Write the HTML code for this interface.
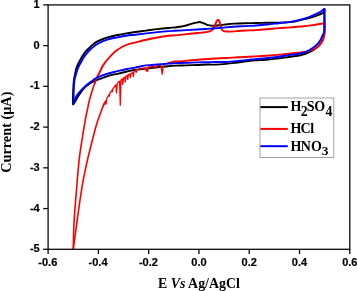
<!DOCTYPE html>
<html><head><meta charset="utf-8"><title>Cyclic voltammogram</title>
<style>
html,body{margin:0;padding:0;background:#fff;}
body{width:357px;height:291px;overflow:hidden;position:relative;font-family:"Liberation Sans",sans-serif;}
svg{display:block}
</style></head><body>
<svg width="357" height="291" viewBox="0 0 357 291" style="position:absolute;left:0;top:0">
<rect x="0" y="0" width="357" height="291" fill="#fff"/>
<g fill="none" stroke-linejoin="round" stroke-linecap="round" stroke-width="1.9">
<path stroke="#000" d="M73.20 104.30C73.15 103.57 72.92 101.78 72.90 99.90C72.88 98.02 73.02 95.20 73.10 93.00C73.18 90.80 73.27 88.87 73.40 86.70C73.53 84.53 73.65 81.95 73.90 80.00C74.15 78.05 74.50 76.92 74.90 75.00C75.30 73.08 75.80 70.25 76.30 68.50C76.80 66.75 77.37 65.70 77.90 64.50C78.43 63.30 78.77 62.67 79.50 61.30C80.23 59.93 81.22 57.98 82.30 56.30C83.38 54.62 84.80 52.65 86.00 51.20C87.20 49.75 88.33 48.73 89.50 47.60C90.67 46.47 91.75 45.38 93.00 44.40C94.25 43.42 95.55 42.52 97.00 41.70C98.45 40.88 99.80 40.26 101.70 39.50C103.60 38.74 105.78 37.91 108.40 37.17C111.02 36.43 114.40 35.69 117.40 35.05C120.40 34.41 123.47 33.85 126.40 33.34C129.33 32.83 131.70 32.46 135.00 32.00C138.30 31.54 142.47 31.06 146.20 30.57C149.93 30.09 153.67 29.55 157.40 29.11C161.13 28.67 165.67 28.21 168.60 27.93C171.53 27.65 172.82 27.68 175.00 27.44C177.18 27.19 180.03 26.73 181.70 26.45C183.37 26.17 183.88 26.03 185.00 25.75C186.12 25.47 187.40 25.06 188.40 24.76C189.40 24.46 190.07 24.24 191.00 23.96C191.93 23.68 193.00 23.32 194.00 23.07C195.00 22.82 196.08 22.64 197.00 22.47C197.92 22.31 198.67 22.06 199.50 22.07C200.33 22.09 201.23 22.34 202.00 22.58C202.77 22.81 203.35 23.16 204.10 23.48C204.85 23.80 205.75 24.20 206.50 24.49C207.25 24.77 207.85 25.00 208.60 25.19C209.35 25.37 210.25 25.51 211.00 25.59C211.75 25.68 212.10 25.71 213.10 25.70C214.10 25.68 215.55 25.62 217.00 25.50C218.45 25.39 220.07 25.22 221.80 25.01C223.53 24.79 225.35 24.45 227.40 24.22C229.45 23.99 231.17 23.79 234.10 23.63C237.03 23.47 241.32 23.34 245.00 23.24C248.68 23.15 252.47 23.14 256.20 23.06C259.93 22.98 263.67 22.86 267.40 22.78C271.13 22.70 275.67 22.65 278.60 22.59C281.53 22.54 283.10 22.51 285.00 22.43C286.90 22.35 288.05 22.37 290.00 22.12C291.95 21.88 294.47 21.44 296.70 20.97C298.93 20.51 301.52 19.77 303.40 19.33C305.28 18.89 306.50 18.70 308.00 18.34C309.50 17.98 310.73 17.68 312.40 17.15C314.07 16.63 316.32 15.86 318.00 15.20C319.68 14.54 321.47 13.77 322.50 13.20C323.53 12.63 323.88 12.47 324.20 11.80C324.52 11.13 324.37 9.63 324.40 9.20"/>
<path stroke="#000" d="M324.40 9.20C324.42 11.00 324.50 16.53 324.50 20.00C324.50 23.47 324.45 27.67 324.40 30.00C324.35 32.33 324.35 32.75 324.20 34.00C324.05 35.25 323.77 36.47 323.50 37.50C323.23 38.53 323.02 39.28 322.60 40.20C322.18 41.12 321.62 42.09 321.00 43.00C320.38 43.91 319.65 44.85 318.90 45.64C318.15 46.42 317.47 46.97 316.50 47.72C315.53 48.46 314.50 49.28 313.10 50.12C311.70 50.96 309.78 52.00 308.10 52.73C306.42 53.46 304.68 54.01 303.00 54.51C301.32 55.02 300.40 55.33 298.00 55.75C295.60 56.16 292.03 56.55 288.60 57.01C285.17 57.46 281.17 58.01 277.40 58.46C273.63 58.91 269.73 59.40 266.00 59.71C262.27 60.03 257.90 60.15 255.00 60.37C252.10 60.58 251.53 60.65 248.60 61.00C245.67 61.35 241.17 62.00 237.40 62.48C233.63 62.95 229.73 63.49 226.00 63.85C222.27 64.21 217.90 64.51 215.00 64.62C212.10 64.73 211.53 64.45 208.60 64.51C205.67 64.57 201.17 64.84 197.40 64.98C193.63 65.12 189.73 65.25 186.00 65.35C182.27 65.46 178.47 65.42 175.00 65.60C171.53 65.79 168.53 66.14 165.20 66.45C161.87 66.77 159.20 67.03 155.00 67.50C150.80 67.97 143.67 68.85 140.00 69.30C136.33 69.75 135.17 69.83 133.00 70.20C130.83 70.57 129.60 70.90 127.00 71.50C124.40 72.10 120.23 73.15 117.40 73.80C114.57 74.45 112.62 74.63 110.00 75.40C107.38 76.17 103.70 77.70 101.70 78.40C99.70 79.10 99.28 79.13 98.00 79.60C96.72 80.07 95.48 80.47 94.00 81.20C92.52 81.93 90.75 82.83 89.10 84.00C87.45 85.17 85.75 86.42 84.10 88.20C82.45 89.98 80.70 92.48 79.20 94.70C77.70 96.92 76.10 99.90 75.10 101.50C74.10 103.10 73.52 103.83 73.20 104.30"/>
<path stroke="#f00" stroke-width="1.6" d="M73.30 248.70C73.43 244.08 73.50 231.62 74.10 221.00C74.70 210.38 76.28 192.88 76.90 185.00C77.52 177.12 77.37 178.40 77.80 173.70C78.23 169.00 78.80 162.42 79.50 156.80C80.20 151.18 81.05 146.05 82.00 140.00C82.95 133.95 84.30 125.53 85.20 120.50C86.10 115.47 86.75 112.97 87.40 109.80C88.05 106.63 88.27 104.80 89.10 101.50C89.93 98.20 91.45 93.08 92.40 90.00C93.35 86.92 94.20 84.78 94.80 83.00"/>
<path stroke="#f00" d="M94.80 83.00C95.40 81.22 95.33 80.80 96.00 79.30C96.67 77.80 97.75 76.08 98.80 74.00C99.85 71.92 101.37 68.55 102.30 66.80C103.23 65.05 103.68 64.55 104.40 63.50C105.12 62.45 105.58 61.74 106.60 60.50C107.62 59.26 108.97 57.62 110.50 56.05C112.03 54.48 113.90 52.59 115.80 51.08C117.70 49.57 119.77 48.17 121.90 47.02C124.03 45.87 126.42 44.93 128.60 44.19C130.78 43.44 132.07 43.29 135.00 42.55C137.93 41.81 142.47 40.59 146.20 39.74C149.93 38.90 153.67 38.12 157.40 37.47C161.13 36.81 165.67 36.14 168.60 35.79C171.53 35.44 172.07 35.65 175.00 35.38C177.93 35.11 182.47 34.57 186.20 34.17C189.93 33.76 194.27 33.27 197.40 32.95C200.53 32.64 203.23 32.47 205.00 32.27C206.77 32.08 207.08 31.98 208.00 31.77C208.92 31.56 209.78 31.33 210.50 31.00C211.22 30.67 211.77 30.32 212.30 29.80C212.83 29.28 213.27 28.62 213.70 27.90C214.13 27.18 214.53 26.33 214.90 25.50C215.27 24.67 215.57 23.68 215.90 22.90C216.23 22.12 216.57 21.30 216.90 20.80C217.23 20.30 217.57 19.97 217.90 19.90C218.23 19.83 218.58 19.97 218.90 20.40C219.22 20.83 219.52 21.65 219.80 22.50C220.08 23.35 220.33 24.50 220.60 25.50C220.87 26.50 221.10 27.70 221.40 28.50C221.70 29.30 221.97 29.87 222.40 30.30C222.83 30.73 223.32 30.90 224.00 31.10C224.68 31.30 225.57 31.42 226.50 31.50C227.43 31.58 227.58 31.68 229.60 31.60C231.62 31.52 236.03 31.18 238.60 31.00C241.17 30.82 242.07 30.65 245.00 30.50C247.93 30.35 252.47 30.31 256.20 30.09C259.93 29.88 263.67 29.53 267.40 29.20C271.13 28.87 274.83 28.40 278.60 28.10C282.37 27.80 286.23 27.68 290.00 27.42C293.77 27.15 297.47 26.91 301.20 26.53C304.93 26.16 308.50 25.71 312.40 25.16C316.30 24.60 322.57 23.55 324.60 23.22"/>
<path stroke="#f00" d="M324.60 23.80C324.62 24.67 324.72 27.30 324.70 29.00C324.68 30.70 324.67 32.58 324.50 34.00C324.33 35.42 323.97 36.47 323.70 37.50C323.43 38.53 323.32 39.23 322.90 40.20C322.48 41.17 321.88 42.35 321.20 43.30C320.52 44.25 319.67 45.12 318.80 45.90C317.93 46.68 317.05 47.35 316.00 48.00C314.95 48.65 313.82 49.30 312.50 49.80C311.18 50.30 309.68 50.61 308.10 51.00C306.52 51.39 304.68 51.85 303.00 52.14C301.32 52.43 299.33 52.60 298.00 52.74C296.67 52.88 296.57 52.86 295.00 53.00C293.43 53.14 291.53 53.28 288.60 53.60C285.67 53.92 281.13 54.55 277.40 54.90C273.67 55.25 269.93 55.45 266.20 55.70C262.47 55.95 257.93 56.22 255.00 56.40C252.07 56.58 251.53 56.65 248.60 56.80C245.67 56.95 241.13 57.11 237.40 57.32C233.67 57.52 229.93 57.84 226.20 58.03C222.47 58.22 217.93 58.30 215.00 58.45C212.07 58.61 211.53 58.74 208.60 58.96C205.67 59.18 201.13 59.46 197.40 59.78C193.67 60.10 189.93 60.60 186.20 60.90C182.47 61.20 177.18 61.40 175.00 61.57C172.82 61.75 174.17 61.70 173.10 61.93C172.03 62.15 169.35 62.75 168.60 62.91"/>
<path stroke="#f00" stroke-width="1.3" d="M168.60 62.90L166.00 63.70L164.20 64.30L163.20 66.80L162.20 74.10L161.20 67.20L160.20 65.10L158.00 65.40L156.40 65.80L155.60 68.30L154.80 68.30L154.00 66.10L152.00 66.40L150.00 66.80L148.40 67.20L147.70 71.30L147.00 67.80L146.20 71.00L145.50 67.90L143.00 68.20L140.60 68.60L138.00 69.40L136.80 69.90L136.20 72.40L135.60 70.20L135.00 70.60L134.00 72.00L133.40 76.50L132.80 72.60L131.00 73.50L130.40 77.70L129.80 74.00L128.40 74.60L127.80 79.40L127.20 75.40L126.00 76.20L125.30 81.90L124.60 77.20L123.40 78.00L122.80 84.50L122.20 79.00L121.00 80.00L120.30 105.20L119.60 81.20L118.60 81.90L117.20 83.60L116.50 92.90L115.80 85.00L113.50 87.80L112.70 89.10L112.40 91.60L112.10 90.00L110.40 92.60L109.70 93.70L109.40 96.20L109.10 94.70L108.50 95.40L106.60 99.00L106.10 104.00L105.60 100.80L104.90 102.00L104.60 104.60L104.30 103.10L104.10 103.50"/>
<path stroke="#f00" stroke-width="1.6" d="M104.10 103.50C103.78 104.33 102.92 106.58 102.20 108.50C101.48 110.42 100.62 112.75 99.80 115.00C98.98 117.25 98.10 119.50 97.30 122.00C96.50 124.50 95.73 127.33 95.00 130.00C94.27 132.67 93.60 135.25 92.90 138.00C92.20 140.75 91.58 143.37 90.80 146.50C90.02 149.63 89.25 152.27 88.20 156.80C87.15 161.33 85.53 168.67 84.50 173.70C83.47 178.73 83.13 179.90 82.00 187.00C80.87 194.10 78.90 207.82 77.70 216.30C76.50 224.78 75.53 232.50 74.80 237.90C74.07 243.30 73.55 246.90 73.30 248.70"/>
<path stroke="#00f" d="M73.60 103.20C73.60 102.50 73.58 100.70 73.60 99.00C73.62 97.30 73.65 95.05 73.70 93.00C73.75 90.95 73.77 88.87 73.90 86.70C74.03 84.53 74.18 81.95 74.50 80.00C74.82 78.05 75.33 76.67 75.80 75.00C76.27 73.33 76.78 71.50 77.30 70.00C77.82 68.50 78.30 67.25 78.90 66.00C79.50 64.75 80.17 63.85 80.90 62.50C81.63 61.15 82.22 59.55 83.30 57.90C84.38 56.25 86.15 54.08 87.40 52.60C88.65 51.12 89.63 50.12 90.80 49.00C91.97 47.88 93.20 46.80 94.40 45.90C95.60 45.00 96.78 44.28 98.00 43.60C99.22 42.92 99.97 42.52 101.70 41.80C103.43 41.08 105.78 40.02 108.40 39.28C111.02 38.54 114.40 37.96 117.40 37.36C120.40 36.76 123.47 36.14 126.40 35.70C129.33 35.26 131.70 35.09 135.00 34.70C138.30 34.31 142.47 33.81 146.20 33.38C149.93 32.94 153.67 32.48 157.40 32.10C161.13 31.72 165.67 31.33 168.60 31.10C171.53 30.87 172.10 30.88 175.00 30.72C177.90 30.56 182.27 30.36 186.00 30.15C189.73 29.94 194.23 29.63 197.40 29.45C200.57 29.27 202.57 29.21 205.00 29.05C207.43 28.90 209.20 28.74 212.00 28.51C214.80 28.29 218.30 28.01 221.80 27.72C225.30 27.44 229.13 27.07 233.00 26.80C236.87 26.53 241.13 26.32 245.00 26.10C248.87 25.88 252.47 25.76 256.20 25.49C259.93 25.23 263.67 24.88 267.40 24.50C271.13 24.12 275.67 23.53 278.60 23.20C281.53 22.87 283.10 22.71 285.00 22.50C286.90 22.29 288.05 22.25 290.00 21.93C291.95 21.62 294.47 21.11 296.70 20.61C298.93 20.11 301.15 19.61 303.40 18.95C305.65 18.30 307.95 17.56 310.20 16.66C312.45 15.77 315.03 14.51 316.90 13.60C318.77 12.69 320.17 11.98 321.40 11.20C322.63 10.42 323.82 9.28 324.30 8.90"/>
<path stroke="#00f" d="M324.30 8.90C324.32 10.75 324.38 16.57 324.40 20.00C324.42 23.43 324.53 27.25 324.40 29.50C324.27 31.75 324.02 32.28 323.60 33.50C323.18 34.72 322.45 35.67 321.90 36.80C321.35 37.94 321.07 39.05 320.30 40.29C319.53 41.52 318.50 42.99 317.30 44.23C316.10 45.48 314.63 46.66 313.10 47.74C311.57 48.83 309.78 49.91 308.10 50.74C306.42 51.57 304.68 52.20 303.00 52.74C301.32 53.28 300.40 53.57 298.00 53.96C295.60 54.35 292.03 54.61 288.60 55.11C285.17 55.61 281.17 56.45 277.40 56.97C273.63 57.50 269.73 57.89 266.00 58.24C262.27 58.60 257.90 58.84 255.00 59.11C252.10 59.38 251.53 59.52 248.60 59.85C245.67 60.17 241.17 60.70 237.40 61.05C233.63 61.40 229.73 61.78 226.00 61.93C222.27 62.08 217.90 61.90 215.00 61.95C212.10 61.99 211.53 62.12 208.60 62.20C205.67 62.27 201.13 62.29 197.40 62.41C193.67 62.53 189.93 62.79 186.20 62.92C182.47 63.04 177.93 63.05 175.00 63.17C172.07 63.29 171.53 63.42 168.60 63.65C165.67 63.87 161.13 64.21 157.40 64.51C153.67 64.80 149.10 65.09 146.20 65.42C143.30 65.76 141.87 66.14 140.00 66.50C138.13 66.86 137.17 67.18 135.00 67.60C132.83 68.02 129.93 68.40 127.00 69.00C124.07 69.60 120.23 70.53 117.40 71.20C114.57 71.87 112.62 72.25 110.00 73.00C107.38 73.75 104.20 74.73 101.70 75.70C99.20 76.67 96.55 77.95 95.00 78.80C93.45 79.65 93.67 79.88 92.40 80.80C91.13 81.72 89.05 82.93 87.40 84.30C85.75 85.67 84.15 87.28 82.50 89.00C80.85 90.72 78.75 92.95 77.50 94.60C76.25 96.25 75.65 97.47 75.00 98.90C74.35 100.33 73.83 102.48 73.60 103.20"/>
</g>
<g stroke="#0a0a0a" stroke-width="1.3" fill="none">
<rect x="48.10" y="4.90" width="301.70" height="244.40"/>
<line x1="48.10" y1="249.30" x2="48.10" y2="254.00"/>
<line x1="98.38" y1="249.30" x2="98.38" y2="254.00"/>
<line x1="148.67" y1="249.30" x2="148.67" y2="254.00"/>
<line x1="198.95" y1="249.30" x2="198.95" y2="254.00"/>
<line x1="249.23" y1="249.30" x2="249.23" y2="254.00"/>
<line x1="299.52" y1="249.30" x2="299.52" y2="254.00"/>
<line x1="349.80" y1="249.30" x2="349.80" y2="254.00"/>
<line x1="43.20" y1="4.90" x2="48.10" y2="4.90"/>
<line x1="43.20" y1="45.63" x2="48.10" y2="45.63"/>
<line x1="43.20" y1="86.36" x2="48.10" y2="86.36"/>
<line x1="43.20" y1="127.10" x2="48.10" y2="127.10"/>
<line x1="43.20" y1="167.83" x2="48.10" y2="167.83"/>
<line x1="43.20" y1="208.56" x2="48.10" y2="208.56"/>
<line x1="43.20" y1="249.29" x2="48.10" y2="249.29"/>
</g>
<g font-family="'Liberation Sans', Arial, sans-serif" font-weight="bold" font-size="11px" fill="#000" stroke="#000" stroke-width="0.2">
<text x="47.80" y="266" text-anchor="middle">-0.6</text>
<text x="98.08" y="266" text-anchor="middle">-0.4</text>
<text x="148.37" y="266" text-anchor="middle">-0.2</text>
<text x="198.95" y="266" text-anchor="middle">0.0</text>
<text x="249.23" y="266" text-anchor="middle">0.2</text>
<text x="299.52" y="266" text-anchor="middle">0.4</text>
<text x="349.80" y="266" text-anchor="middle">0.6</text>
<text x="39.7" y="7.90" text-anchor="end">1</text>
<text x="39.7" y="48.63" text-anchor="end">0</text>
<text x="39.7" y="89.36" text-anchor="end">-1</text>
<text x="39.7" y="130.10" text-anchor="end">-2</text>
<text x="39.7" y="170.83" text-anchor="end">-3</text>
<text x="39.7" y="211.56" text-anchor="end">-4</text>
<text x="39.7" y="252.29" text-anchor="end">-5</text>
</g>
<g font-family="'Liberation Serif', 'Times New Roman', serif" font-weight="bold" font-size="14px" fill="#000">
<text x="198.9" y="288.3" text-anchor="middle" font-size="13.9px">E <tspan font-style="italic">Vs</tspan> Ag/AgCl</text>
<text transform="translate(11.4,132.2) rotate(-90)" text-anchor="middle" font-size="14.3px">Current (μA)</text>
<rect x="260" y="98" width="73.8" height="59.5" fill="#fff" stroke="#999" stroke-width="0.9"/>
<g stroke-width="2">
<line x1="260.4" y1="107.1" x2="287.8" y2="107.1" stroke="#000"/>
<line x1="260.4" y1="128.9" x2="287.8" y2="128.9" stroke="#f00"/>
<line x1="260.4" y1="146.2" x2="287.8" y2="146.2" stroke="#00f"/>
</g>
<g font-size="14px">
<text x="290.6 300.7 306.7 314.3 325.6" y="111.2">H<tspan dy="4.8" font-size="13.8px">2</tspan><tspan dy="-4.8">SO</tspan><tspan dy="4.8" font-size="13.8px">4</tspan></text>
<text x="290.6 300.6 310.2" y="133.2">HCl</text>
<text x="290.4 300.8 310.9 321.7" y="150.5">HNO<tspan dy="4.1" font-size="13.4px">3</tspan></text>
</g>
</g>
</svg>
</body></html>
